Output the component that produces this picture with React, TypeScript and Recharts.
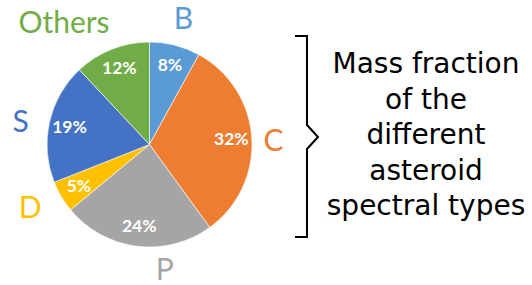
import React from "react";
import { PieChart, Pie, Cell } from "recharts";

const categories = ["B", "C", "P", "D", "S", "Others"];
const fractions = [8, 32, 24, 5, 19, 12];
const colors = ["#5B9BD5", "#ED7D31", "#A5A5A5", "#FFC000", "#4472C4", "#70AD47"];
const titleLines = ["Mass fraction", "of the", "different", "asteroid", "spectral types"];

const data = categories.map((name, i) => ({ name, value: fractions[i] }));

// label placement tweaks (angle shift in degrees, radius) for outer names
const outerTweak: Record<string, [number, number]> = {
  B: [-0.6, 131],
  C: [-1.3, 124],
  P: [14.2, 125],
  D: [-2.8, 135],
  S: [2.3, 131],
  Others: [13.4, 149],
};

const RAD = Math.PI / 180;

const renderLabel = (props: any) => {
  const { cx, cy, midAngle, index } = props;
  const name = categories[index];
  const val = fractions[index];
  const ri = 82;
  const xi = cx + ri * Math.cos(-midAngle * RAD);
  const yi = cy + ri * Math.sin(-midAngle * RAD);
  const [da, ro] = outerTweak[name] || [0, 130];
  const a = midAngle + da;
  const xo = cx + ro * Math.cos(-a * RAD);
  const yo = cy + ro * Math.sin(-a * RAD);
  return (
    <g>
      <text
        x={xi}
        y={yi + 6}
        textAnchor="middle"
        fill="#ffffff"
        fontFamily="Lato"
        fontWeight={700}
        fontSize={17.5}
      >
        {val}%
      </text>
      <text
        x={xo}
        y={yo + 11}
        textAnchor="middle"
        fill={colors[index]}
        fontFamily="Lato"
        fontSize={30}
      >
        {name}
      </text>
    </g>
  );
};

export default function App() {
  return (
    <div style={{ position: "absolute", left: 0, top: 0, width: 532, height: 285, background: "#fff" }}>
      <PieChart width={532} height={285} margin={{ top: 0, right: 0, bottom: 0, left: 0 }}>
        <Pie
          data={data}
          dataKey="value"
          nameKey="name"
          cx={149.5}
          cy={144.5}
          outerRadius={102.5}
          startAngle={90}
          endAngle={-270}
          stroke="#ffffff"
          strokeWidth={0.6}
          label={renderLabel}
          labelLine={false}
          isAnimationActive={false}
        >
          {data.map((d, i) => (
            <Cell key={d.name} fill={colors[i]} />
          ))}
        </Pie>
      </PieChart>
      <svg
        width={532}
        height={285}
        style={{ position: "absolute", left: 0, top: 0, pointerEvents: "none" }}
      >
        <path
          d="M295,36 L307,36 L307,125 L318,137 L307,149 L307,237 L295,237"
          fill="none"
          stroke="#000"
          strokeWidth={2}
        />
        {titleLines.map((t, i) => (
          <text
            key={t}
            x={426}
            y={73 + i * 35.6}
            textAnchor="middle"
            fontFamily="DejaVu Sans"
            fontSize={28}
            fill="#000"
          >
            {t}
          </text>
        ))}
      </svg>
    </div>
  );
}
